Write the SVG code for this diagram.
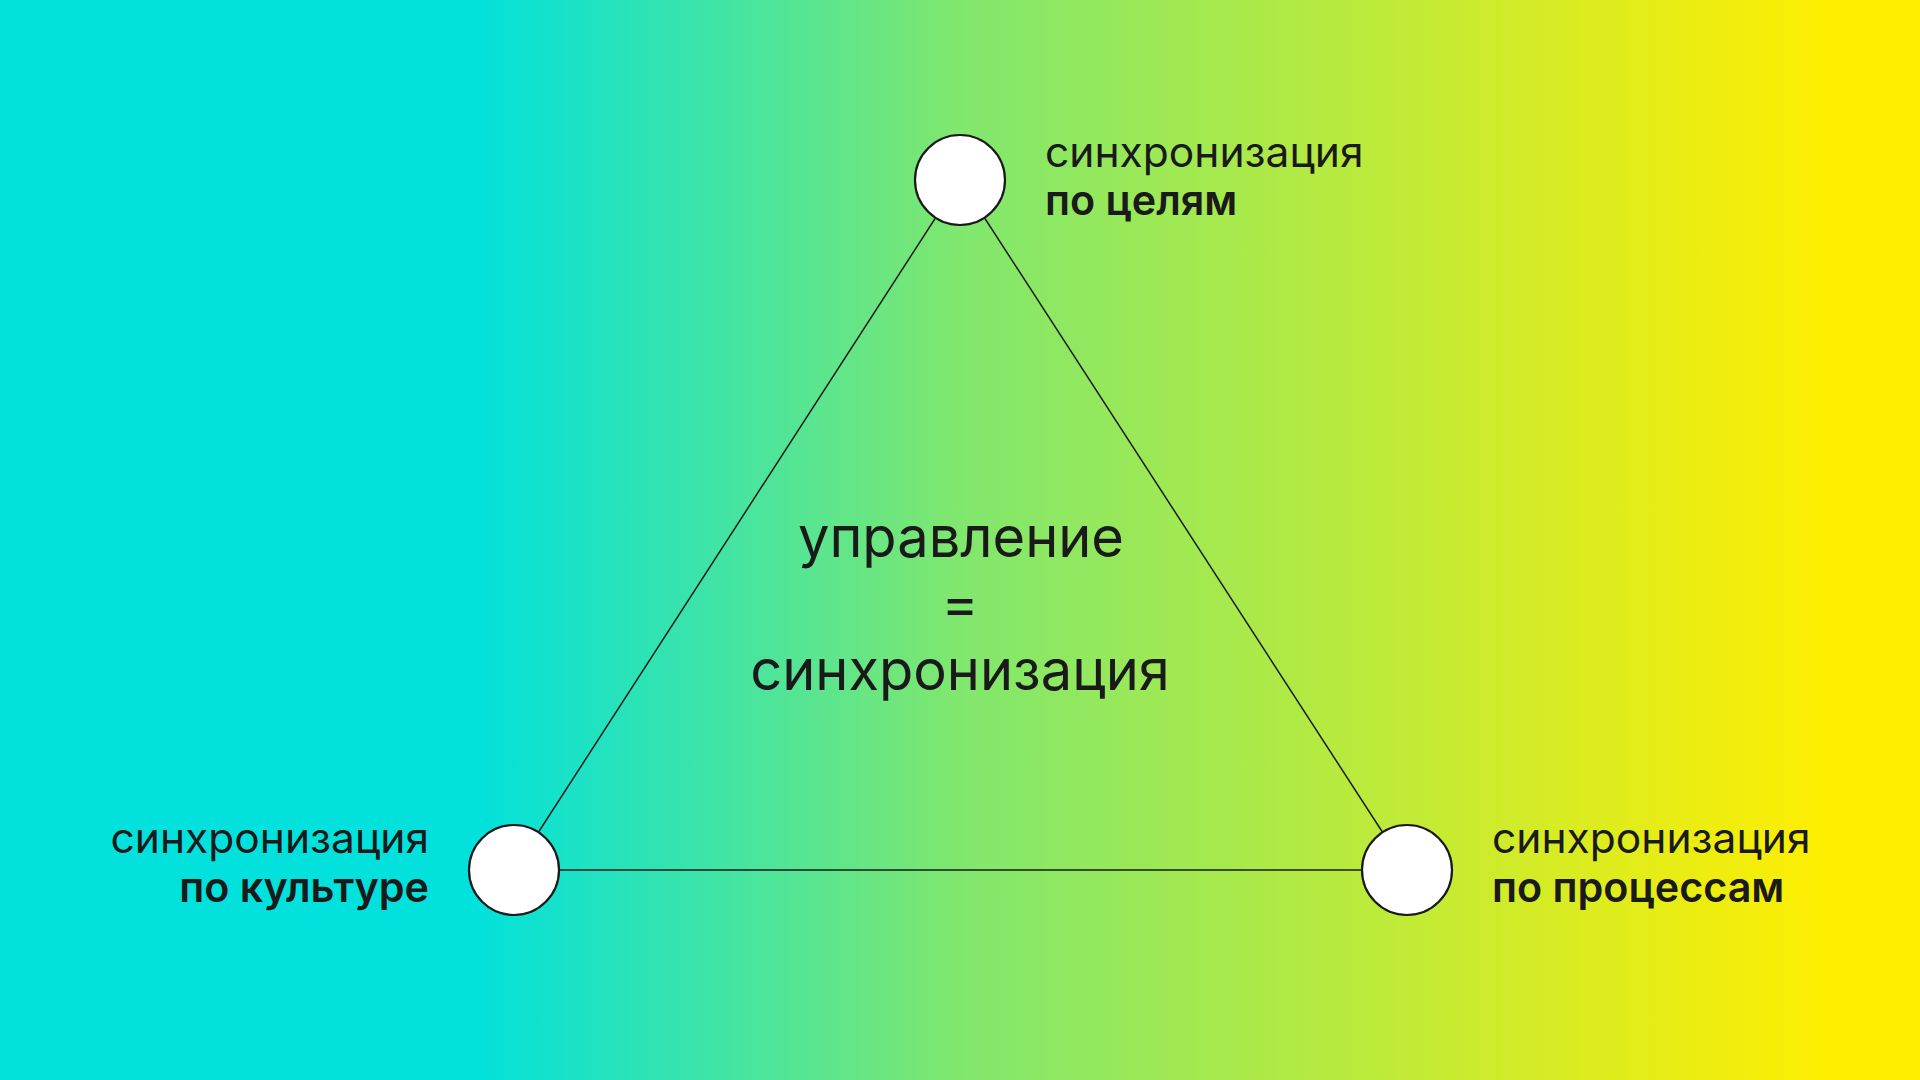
<svg xmlns="http://www.w3.org/2000/svg" width="1920" height="1080" viewBox="0 0 1920 1080">
  <defs>
    <linearGradient id="bg" x1="0" y1="0" x2="1920" y2="0" gradientUnits="userSpaceOnUse">
      <stop offset="0.25" stop-color="#02E1DB"/>
      <stop offset="0.5" stop-color="#80E76E"/>
      <stop offset="0.955" stop-color="#FFEE00"/>
    </linearGradient>
    <style>
      .lbl { font-family: Inter, "Open Sans", "Noto Sans", sans-serif; fill: #1a1a1a; font-size: 42.5px; }
      .b { font-weight: 600; font-size: 41.3px; }
      .big { font-family: Inter, "Open Sans", "Noto Sans", sans-serif; fill: #1a1a1a; font-size: 56px; text-anchor: middle; }
      .node { fill: #ffffff; stroke: #1a1a1a; stroke-width: 2.2; }
      .edge { stroke: #1a1a1a; stroke-width: 1.5; fill: none; }
    </style>
  </defs>
  <rect x="0" y="0" width="1920" height="1080" fill="url(#bg)"/>
  <g id="connectors">
    <line class="edge" x1="960" y1="180" x2="514" y2="870"/>
    <line class="edge" x1="960" y1="180" x2="1407" y2="870"/>
    <line class="edge" x1="514" y1="870" x2="1407" y2="870"/>
  </g>
  <g id="center">
    <text class="big" x="961" y="557">управление</text>
    <text class="big" x="960" y="623">=</text>
    <text class="big" x="960" y="690">синхронизация</text>
  </g>
  <g id="node-goals">
    <circle class="node" cx="960" cy="180" r="45"/>
    <text class="lbl" x="1045" y="167">синхронизация</text>
    <text class="lbl b" x="1045" y="215">по целям</text>
  </g>
  <g id="node-culture">
    <circle class="node" cx="514" cy="870" r="45"/>
    <text class="lbl" x="429" y="853" text-anchor="end">синхронизация</text>
    <text class="lbl b" x="429" y="902" text-anchor="end">по культуре</text>
  </g>
  <g id="node-processes">
    <circle class="node" cx="1407" cy="870" r="45"/>
    <text class="lbl" x="1492" y="853">синхронизация</text>
    <text class="lbl b" x="1492" y="902">по процессам</text>
  </g>
</svg>
